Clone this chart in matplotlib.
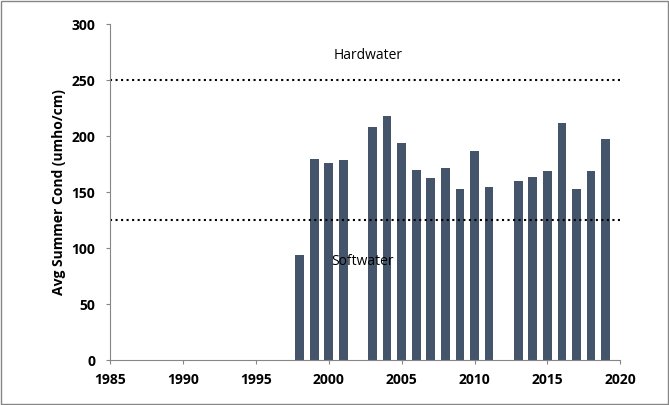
import matplotlib
matplotlib.use("Agg")
import matplotlib.pyplot as plt

years = [1998,1999,2000,2001,2003,2004,2005,2006,2007,2008,2009,2010,2011,2013,2014,2015,2016,2017,2018,2019]
cond = [94,180,176,179,208,218,194,170,163,172,153,187,155,160,164,169,212,153,169,198]
hard_line = 250
soft_line = 125

plt.rcParams['font.family'] = ['Open Sans', 'DejaVu Sans']
fig = plt.figure(figsize=(6.69,4.05), dpi=100)
ax = fig.add_axes([0.165, 0.11, 0.762, 0.83])
ax.bar(years, cond, width=0.6, color='#44546a')
ax.axhline(hard_line, color='black', linestyle=':', linewidth=1.5)
ax.axhline(soft_line, color='black', linestyle=':', linewidth=1.5)
ax.text(2002.7, 272, 'Hardwater', ha='center', va='center', fontsize=10)
ax.text(2002.3, 88, 'Softwater', ha='center', va='center', fontsize=10)
ax.set_xlim(1985, 2020)
ax.set_ylim(0, 300)
ax.set_xticks(range(1985, 2021, 5))
ax.set_yticks(range(0, 301, 50))
ax.tick_params(labelsize=10, length=3, color='#868686')
ax.tick_params(axis='y', pad=8)
ax.tick_params(axis='x', pad=6)
for l in ax.get_xticklabels()+ax.get_yticklabels():
    l.set_fontweight('bold')
ax.set_ylabel('Avg Summer Cond (umho/cm)', fontsize=10, fontweight='bold')
for s in ['top','right']:
    ax.spines[s].set_visible(False)
for s in ['left','bottom']:
    ax.spines[s].set_color('#868686')
fig.patches.append(plt.Rectangle((0.002,0.002),0.996,0.996, transform=fig.transFigure, fill=False, edgecolor='#868686', linewidth=1))
fig.savefig('out.png', dpi=100)
